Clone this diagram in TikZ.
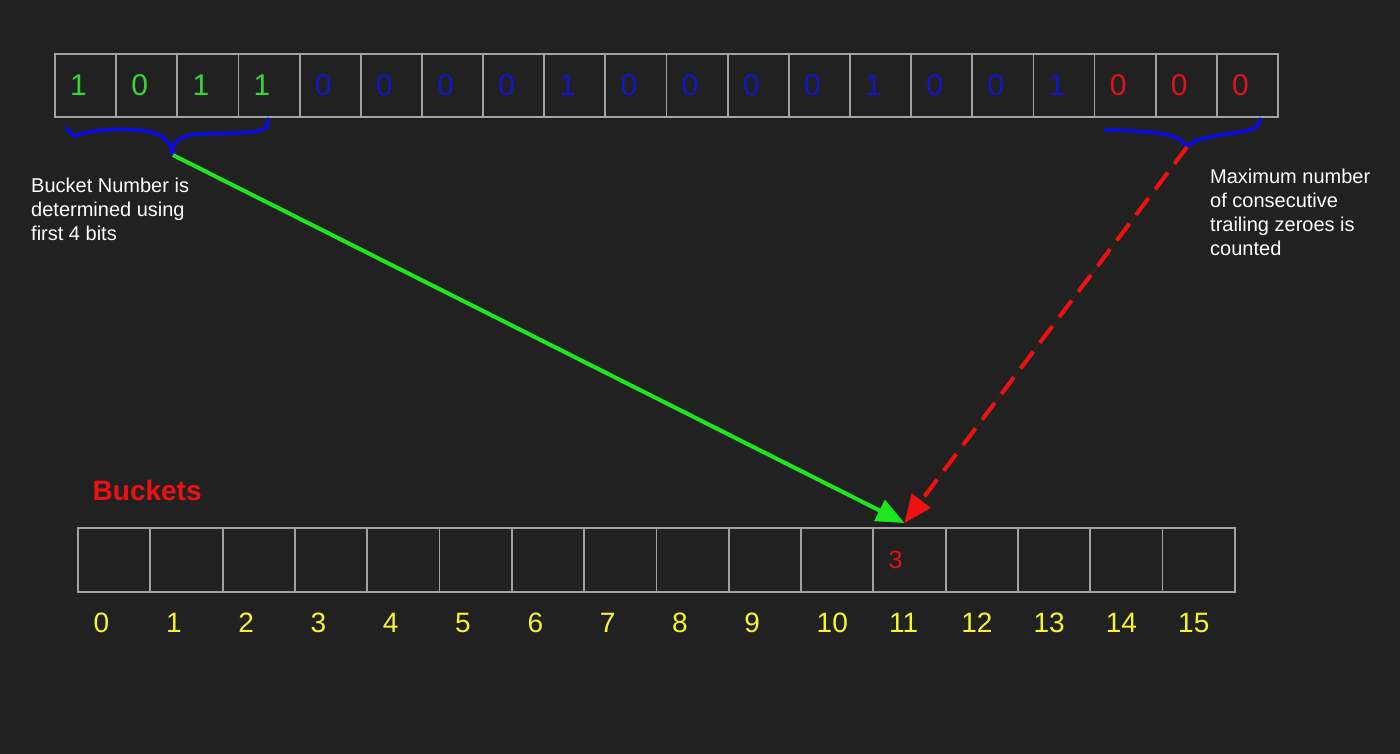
\documentclass[tikz,border=0pt]{standalone}
\usepackage{fontspec}
\setmainfont{Liberation Sans}
\usetikzlibrary{arrows.meta,calc}
\definecolor{bg}{HTML}{212121}
\definecolor{cellgray}{HTML}{A2A2A2}
\definecolor{bitgreen}{HTML}{33D633}
\definecolor{bitblue}{HTML}{1414C8}
\definecolor{bitred}{HTML}{E01414}
\definecolor{braceblue}{HTML}{0A0AE6}
\definecolor{arrowgreen}{HTML}{1EE61E}
\definecolor{arrowred}{HTML}{EE1111}
\definecolor{idxyellow}{HTML}{F5F532}
\begin{document}
\begin{tikzpicture}[x=1pt,y=-1pt,
  topcell/.style={draw=cellgray,line width=1.8pt,minimum width=61.15pt,minimum height=63pt,inner sep=0pt,outer sep=0pt,anchor=north west},
  botcell/.style={draw=cellgray,line width=1.8pt,minimum width=72.3pt,minimum height=64pt,inner sep=0pt,outer sep=0pt,anchor=north west},
  bitlabel/.style={inner sep=0pt,font=\fontsize{30}{30}\selectfont,anchor=west},
  idxlabel/.style={inner sep=0pt,font=\fontsize{28}{28}\selectfont,text=idxyellow,anchor=base west},
  valuelabel/.style={inner sep=0pt,font=\fontsize{25}{25}\selectfont,text=bitred,anchor=west},
  notelabel/.style={inner sep=0pt,font=\fontsize{20}{24}\selectfont,text=white,align=left,anchor=north west},
  titlelabel/.style={inner sep=0pt,font=\fontsize{28}{28}\selectfont\bfseries,text=arrowred,anchor=base west},
  bracestroke/.style={draw=braceblue,line width=3.5pt,line cap=round,line join=round},
  greenarrow/.style={draw=arrowgreen,line width=4pt,-{Triangle[length=28pt,width=23pt]},fill=arrowgreen},
  redarrow/.style={draw=arrowred,line width=4pt,dash pattern=on 21pt off 11pt,-{Triangle[length=28pt,width=23pt]},fill=arrowred}
]
\useasboundingbox (0,0) rectangle (1400,754);
\fill[bg] (0,0) rectangle (1400,754);

% top bit cells
\foreach \i in {0,...,19}
  \node[topcell] (t\i) at ({55+61.15*\i},54) {};
\foreach \i/\b/\c in {0/1/bitgreen,1/0/bitgreen,2/1/bitgreen,3/1/bitgreen,
  4/0/bitblue,5/0/bitblue,6/0/bitblue,7/0/bitblue,8/1/bitblue,9/0/bitblue,
  10/0/bitblue,11/0/bitblue,12/0/bitblue,13/1/bitblue,14/0/bitblue,15/0/bitblue,
  16/1/bitblue,17/0/bitred,18/0/bitred,19/0/bitred}
  \node[bitlabel,text=\c] (d\i) at ([shift={(15,0)}]t\i.west) {\b};

% bucket cells
\foreach \i in {0,...,15}
  \node[botcell] (b\i) at ({78+72.3*\i},528) {};
\foreach \i in {0,...,15}
  \node[idxlabel] (n\i) at ([shift={(15.5,40)}]b\i.south west) {\i};
\node[valuelabel] (v11) at ([shift={(15,0)}]b11.west) {3};

\node[titlelabel] (title) at (92.5,500.5) {Buckets};

% notes
\node[notelabel] (leftnote) at (31,177.5) {Bucket Number is\\determined using\\first 4 bits};
\node[notelabel] (rightnote) at (1210,169) {Maximum number\\of consecutive\\trailing zeroes is\\counted};

% braces
\coordinate (ltip) at (173,155);
\coordinate (rtip) at (1187,147);
\draw[bracestroke] (66,128) -- (75,137);
\draw[bracestroke] (74,136) .. controls (95,128) and (148,126) .. (163,137)
  .. controls (170,143) and (172,149) .. (ltip);
\draw[bracestroke] (ltip) .. controls (171,142) and (180,135) .. (200,134)
  .. controls (232,133) and (264,134) .. (267,126) -- (268,119);
\draw[bracestroke] (1105,130) .. controls (1140,131) and (1165,132) .. (1177,138)
  .. controls (1182,141) and (1185,144) .. (rtip);
\draw[bracestroke] (rtip) .. controls (1192,140) and (1205,138) .. (1220,135)
  .. controls (1245,131) and (1260,131) .. (1260,119);

% connectors
\coordinate (target) at ([shift={(-5,-5)}]b11.north);
\draw[greenarrow] (ltip) -- (target);
\draw[redarrow] (rtip) -- (target);
\end{tikzpicture}
\end{document}
